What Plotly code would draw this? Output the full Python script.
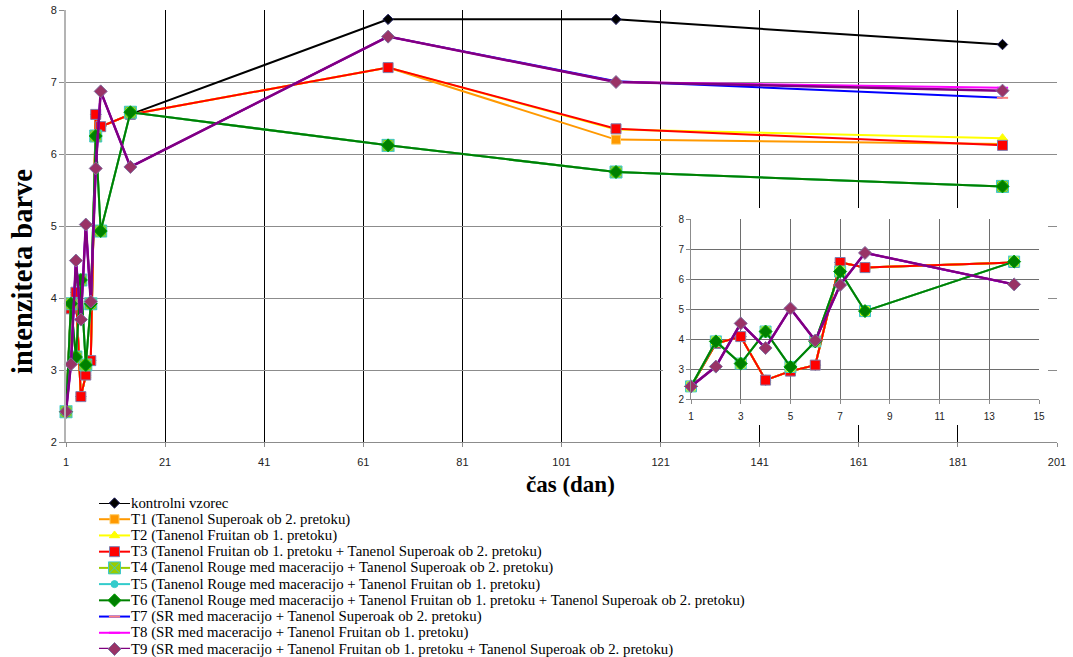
import plotly.graph_objects as go

# Sampling days (dan) and colour intensity (intenziteta barve) per treatment
days = [1, 2, 3, 4, 5, 6, 7, 8, 14, 66, 112, 190]

control = [2.42, 3.85, 4.08, 2.63, 2.93, 3.13, 6.55, 6.38, 6.55, 7.87, 7.87, 7.52]
t1 = [2.42, 3.85, 4.08, 2.63, 2.93, 3.13, 6.55, 6.38, 6.55, 7.20, 6.20, 6.14]
t2 = [2.42, 3.85, 4.08, 2.63, 2.93, 3.13, 6.55, 6.38, 6.55, 7.20, 6.34, 6.22]
t3 = [2.42, 3.85, 4.08, 2.63, 2.93, 3.13, 6.55, 6.38, 6.55, 7.20, 6.35, 6.12]
t4 = [2.42, 3.92, 3.18, 4.25, 3.07, 3.92, 6.25, 4.93, 6.58, 6.12, 5.75, 5.55]
t5 = [2.42, 3.92, 3.18, 4.25, 3.07, 3.92, 6.25, 4.93, 6.58, 6.12, 5.75, 5.55]
t6 = [2.42, 3.92, 3.18, 4.25, 3.07, 3.92, 6.25, 4.93, 6.58, 6.12, 5.75, 5.55]
t7 = [2.42, 3.08, 4.52, 3.70, 5.02, 3.95, 5.80, 6.87, 5.82, 7.63, 7.01, 6.78]
t8 = [2.42, 3.08, 4.52, 3.70, 5.02, 3.95, 5.80, 6.87, 5.82, 7.63, 7.00, 6.92]
t9 = [2.42, 3.08, 4.52, 3.70, 5.02, 3.95, 5.80, 6.87, 5.82, 7.63, 7.00, 6.88]

names = [
    "kontrolni vzorec",
    "T1 (Tanenol Superoak ob 2. pretoku)",
    "T2 (Tanenol Fruitan ob 1. pretoku)",
    "T3 (Tanenol Fruitan ob 1. pretoku + Tanenol Superoak ob 2. pretoku)",
    "T4 (Tanenol Rouge med maceracijo + Tanenol Superoak ob 2. pretoku)",
    "T5 (Tanenol Rouge med maceracijo + Tanenol Fruitan ob 1. pretoku)",
    "T6 (Tanenol Rouge med maceracijo + Tanenol Fruitan ob 1. pretoku + Tanenol Superoak ob 2. pretoku)",
    "T7 (SR med maceracijo + Tanenol Superoak ob 2. pretoku)",
    "T8 (SR med maceracijo + Tanenol Fruitan ob 1. pretoku)",
    "T9 (SR med maceracijo + Tanenol Fruitan ob 1. pretoku + Tanenol Superoak ob 2. pretoku)",
]
series = [control, t1, t2, t3, t4, t5, t6, t7, t8, t9]

# days shown in the zoomed panel (first nine samples)
n_inset = 9

styles = [
    dict(line="#000000", marker=dict(symbol="diamond", size=8, color="#000000",
                                     line=dict(color="#202060", width=1))),
    dict(line="#ff9900", marker=dict(symbol="square", size=9, color="#ff9900",
                                     line=dict(color="#ffcc66", width=1))),
    dict(line="#ffff00", marker=dict(symbol="triangle-up", size=9, color="#ffff00",
                                     line=dict(color="#ffff00", width=1))),
    dict(line="#ff0000", marker=dict(symbol="square", size=10, color="#ff0000",
                                     line=dict(color="#7f7fb0", width=1))),
    dict(line="#99cc00", marker=dict(symbol="square-x", size=12, color="#99cc00",
                                     line=dict(color="#40c8c8", width=1))),
    dict(line="#33cccc", marker=dict(symbol="circle", size=7, color="#33cccc",
                                     line=dict(color="#33cccc", width=1))),
    dict(line="#008000", marker=dict(symbol="diamond", size=10, color="#008000",
                                     line=dict(color="#00a000", width=1))),
    dict(line="#0000ff", marker=dict(symbol="line-ew", size=8, color="#ff8080",
                                     line=dict(color="#ff8080", width=2))),
    dict(line="#ff00ff", marker=dict(symbol="line-ew", size=8, color="#ff00ff",
                                     line=dict(color="#ff00ff", width=2))),
    dict(line="#800080", marker=dict(symbol="diamond", size=10, color="#993366",
                                     line=dict(color="#8070a0", width=1))),
]
line_widths = [2, 2, 2, 2, 2, 2, 2, 2, 2, 2.5]

W, H = 1073, 657
# main plot area in pixels (left, right, top, bottom)
PL, PR, PT, PB = 66, 1057, 10, 442
X_RANGE = [1, 201]
Y_RANGE = [2, 8]

fig = go.Figure()

# main chart
for name, vals, st, lw in zip(names, series, styles, line_widths):
    fig.add_trace(go.Scatter(
        x=days, y=vals, name=name, mode="lines+markers",
        line=dict(color=st["line"], width=lw), marker=st["marker"],
        showlegend=False, xaxis="x", yaxis="y", cliponaxis=False,
    ))

# zoomed panel for the first two weeks
for i, (vals, st, lw) in enumerate(zip(series, styles, line_widths)):
    mk = dict(st["marker"])
    if i == 4:
        mk = dict(mk, color="#ffff00", size=11)
    fig.add_trace(go.Scatter(
        x=days[:n_inset], y=vals[:n_inset], mode="lines+markers",
        line=dict(color=st["line"], width=lw), marker=mk,
        showlegend=False, xaxis="x2", yaxis="y2", cliponaxis=False,
    ))

# legend keys: one row per series
key_x = [0, 1]
for row, (st, lw) in enumerate(zip(styles, line_widths)):
    fig.add_trace(go.Scatter(
        x=key_x, y=[row, row], mode="lines",
        line=dict(color=st["line"], width=lw),
        showlegend=False, xaxis="x3", yaxis="y3", cliponaxis=False,
        hoverinfo="skip",
    ))
    fig.add_trace(go.Scatter(
        x=[sum(key_x) / 2], y=[row], mode="markers", marker=st["marker"],
        showlegend=False, xaxis="x3", yaxis="y3", cliponaxis=False,
        hoverinfo="skip",
    ))

annotations = []
for row, name in enumerate(names):
    annotations.append(dict(
        text=name, xref="x3", yref="y3", x=1, y=row, xanchor="left",
        yanchor="middle", xshift=-1, showarrow=False,
        font=dict(family="Liberation Serif", size=14.8, color="#000000"),
    ))

annotations.append(dict(
    text="intenziteta barve", xref="paper", yref="paper",
    x=22 / W, y=(H - 272) / H, textangle=-90, showarrow=False,
    xanchor="center", yanchor="middle",
    font=dict(family="Liberation Serif", size=28.5, color="#000000", weight="bold"),
))
annotations.append(dict(
    text="čas (dan)", xref="paper", yref="paper",
    x=570 / W, y=(H - 484) / H, showarrow=False,
    xanchor="center", yanchor="middle",
    font=dict(family="Liberation Serif", size=23, color="#000000", weight="bold"),
))

tick_font = dict(family="Liberation Sans", size=11, color="#222222")
inset_font = dict(family="Liberation Sans", size=10, color="#222222")


def px_to_x(px):
    return X_RANGE[0] + (px - PL) / (PR - PL) * (X_RANGE[1] - X_RANGE[0])


def px_to_y(py):
    return Y_RANGE[1] - (py - PT) / (PB - PT) * (Y_RANGE[1] - Y_RANGE[0])


fig.update_layout(
    template="none",
    width=W, height=H,
    margin=dict(l=0, r=0, t=0, b=0, autoexpand=False),
    paper_bgcolor="white", plot_bgcolor="white",
    showlegend=False,
    annotations=annotations,
    xaxis=dict(
        domain=[PL / W, PR / W], range=X_RANGE, tick0=1, dtick=20,
        showgrid=True, gridcolor="#000000", gridwidth=1,
        showline=True, linecolor="#8c8c8c", linewidth=1,
        ticks="outside", ticklen=4, tickcolor="#8c8c8c",
        tickfont=tick_font, ticklabelstandoff=6, zeroline=False,
        automargin=False,
    ),
    yaxis=dict(
        domain=[(H - PB) / H, (H - PT) / H], range=Y_RANGE, dtick=1,
        showgrid=True, gridcolor="#8c8c8c", gridwidth=1,
        showline=True, linecolor="#b4b4b4", linewidth=2,
        ticks="outside", ticklen=5, tickcolor="#8c8c8c",
        tickfont=tick_font, zeroline=False, automargin=False,
    ),
    xaxis2=dict(
        domain=[691 / W, 1039 / W], range=[1, 15], tick0=1, dtick=2,
        anchor="y2", showgrid=True, gridcolor="#6e6e6e", gridwidth=1,
        showline=True, linecolor="#8c8c8c", linewidth=1,
        ticks="outside", ticklen=4, tickcolor="#8c8c8c",
        tickfont=inset_font, ticklabelstandoff=4, zeroline=False,
        automargin=False,
    ),
    yaxis2=dict(
        domain=[(H - 399) / H, (H - 219) / H], range=[2, 8], dtick=1,
        anchor="x2", showgrid=True, gridcolor="#6e6e6e", gridwidth=1,
        showline=True, linecolor="#8c8c8c", linewidth=1,
        ticks="outside", ticklen=4, tickcolor="#8c8c8c",
        tickfont=inset_font, zeroline=False, automargin=False,
    ),
    xaxis3=dict(domain=[99 / W, 130 / W], range=[0, 1], anchor="y3",
                visible=False, fixedrange=True, automargin=False),
    yaxis3=dict(domain=[(H - 649) / H, (H - 503) / H], range=[9, 0],
                anchor="x3", visible=False, fixedrange=True, automargin=False),
    # white backing behind the zoomed panel, above the main grid
    shapes=[dict(
        type="rect", xref="x", yref="y",
        x0=px_to_x(663), x1=px_to_x(1048),
        y0=px_to_y(425), y1=px_to_y(208),
        fillcolor="white", line=dict(width=0), layer="between",
    )],
)

fig.write_html("out.html")
